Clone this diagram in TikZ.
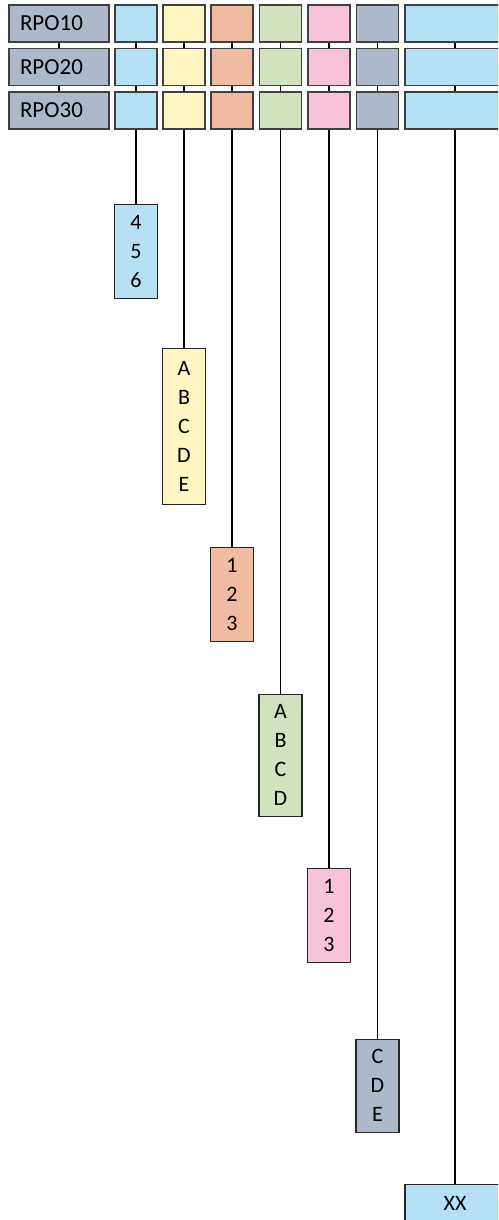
\documentclass[tikz,border=0pt]{standalone}
\usepackage{fontspec}
\setmainfont{Carlito}
\definecolor{rpogray}{HTML}{ADB9CA}
\definecolor{skyblue}{HTML}{B4E1F5}
\definecolor{paleyellow}{HTML}{FFF6C2}
\definecolor{salmon}{HTML}{F0BBA0}
\definecolor{palegreen}{HTML}{D2E1BE}
\definecolor{palepink}{HTML}{F8C3DA}

\tikzset{
	cell/.style={draw=black!75, line width=1.8pt, minimum height=37pt, inner sep=0pt,
		font=\fontsize{23}{29}\selectfont},
	tag/.style={draw=black!85, line width=1.2pt, minimum width=43pt, anchor=north,
		inner sep=0pt, align=center, font=\fontsize{22}{29}\selectfont},
	link/.style={line width=1.2pt}
}

\begin{document}
\begin{tikzpicture}[x=1pt, y=-1pt]
\useasboundingbox (0, 0) rectangle (498, 1220);
\clip (0, 0) rectangle (498, 1220);

\foreach \i/\y in {1/23.5, 2/67, 3/110.5} {
	\node[cell, fill=rpogray, minimum width=100pt, text width=78pt, align=left]
		(r\i c0) at (59, \y) {RPO\i0};
	\foreach \k/\x/\col in {1/136/skyblue, 2/184/paleyellow, 3/232/salmon,
		4/280.5/palegreen, 5/329/palepink, 6/377.5/rpogray}
		\node[cell, fill=\col, minimum width=42pt] (r\i c\k) at (\x, \y) {};
	\node[cell, fill=skyblue, minimum width=100pt] (r\i c7) at (455, \y) {};
}

\foreach \k in {0,...,7} {
	\draw[link] (r1c\k) -- (r2c\k);
	\draw[link] (r2c\k) -- (r3c\k);
}

\node[tag, fill=skyblue, minimum height=94pt] (d1) at (136, 203.6) {4\\5\\6};
\node[tag, fill=paleyellow, minimum height=156pt] (d2) at (184, 347.6) {A\\B\\C\\D\\E};
\node[tag, fill=salmon, minimum height=94pt] (d3) at (232, 546.6) {1\\2\\3};
\node[tag, fill=palegreen, minimum height=122pt] (d4) at (280.5, 693.6) {A\\B\\C\\D};
\node[tag, fill=palepink, minimum height=94pt] (d5) at (329, 867.6) {1\\2\\3};
\node[tag, fill=rpogray, minimum height=93pt] (d6) at (377.5, 1038.6) {C\\D\\E};
\node[tag, fill=skyblue, minimum width=100pt, minimum height=38pt] (d7) at (455, 1183.6) {XX};

\foreach \k in {1,...,7}
	\draw[link] (r3c\k) -- (d\k);

\end{tikzpicture}
\end{document}
